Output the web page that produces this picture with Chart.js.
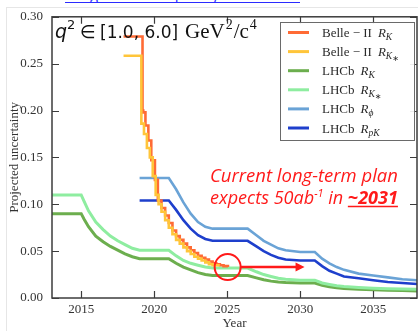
<!DOCTYPE html>
<html><head><meta charset="utf-8">
<script src="https://cdn.jsdelivr.net/npm/chart.js@4.4.0/dist/chart.umd.min.js"></script>
<style>
html,body{margin:0;padding:0;background:#fff;overflow:hidden}
#wrap{position:relative;width:418px;height:331px;overflow:hidden}
#frame{position:absolute;left:6px;top:7px;width:430px;height:340px;border-left:1px solid #e6e6e6;border-top:1px solid #e6e6e6}
#link{position:absolute;left:65px;top:-16px;width:235px;height:18px;line-height:17px;font:15px "Open Sans",sans-serif;color:#2b2bff;border-bottom:1.5px solid #2b2bff;white-space:nowrap;overflow:hidden;letter-spacing:0.3px}
canvas{position:absolute;left:0;top:0}
</style></head>
<body><div id="wrap"><div id="frame"></div><div id="link">Prog. Theor. Exp. Phys. 2019 123C01</div><canvas id="c" width="418" height="331"></canvas></div>
<script>
// ---- data ----
const belleRK_years = [2017.9, 2019.2, 2019.25, 2019.4, 2019.6, 2019.8, 2020.05, 2020.25, 2020.5, 2020.75, 2021.0, 2021.25, 2021.5, 2021.75, 2022.0, 2022.25, 2022.5, 2022.75, 2023.0, 2023.25, 2023.5, 2023.75, 2024.0, 2024.25, 2024.5, 2024.75, 2025.05];
const belleRK_values = [0.279, 0.200, 0.198, 0.184, 0.168, 0.147, 0.126, 0.104, 0.096, 0.088, 0.080, 0.072, 0.066, 0.062, 0.058, 0.054, 0.051, 0.048, 0.045, 0.043, 0.041, 0.039, 0.037, 0.036, 0.035, 0.034, 0.033];

const belleRKs_years = [2017.9, 2019.12, 2019.3, 2019.5, 2019.7, 2019.9, 2020.1, 2020.3, 2020.5, 2020.75, 2021.0, 2021.25, 2021.5, 2021.75, 2022.0, 2022.25, 2022.5, 2022.75, 2023.0, 2023.25, 2023.5, 2023.75, 2024.0, 2024.4];
const belleRKs_values = [0.2585, 0.186, 0.175, 0.160, 0.150, 0.130, 0.110, 0.100, 0.092, 0.083, 0.075, 0.068, 0.062, 0.058, 0.054, 0.050, 0.047, 0.044, 0.042, 0.040, 0.038, 0.036, 0.035, 0.034];

const lhcbGreen_years = [2013, 2015, 2015.2, 2015.5, 2016, 2016.5, 2017, 2017.5, 2018, 2018.5, 2019, 2021, 2021.5, 2022, 2022.5, 2023, 2023.5, 2024, 2026.4, 2027, 2027.5, 2028, 2028.5, 2029, 2030, 2031, 2031.5, 2032, 2032.5, 2033, 2034, 2035, 2036, 2037, 2038];
const lhcbRK_values  = [0.090, 0.090, 0.084, 0.076, 0.066, 0.060, 0.055, 0.051, 0.047, 0.044, 0.042, 0.042, 0.037, 0.033, 0.030, 0.027, 0.025, 0.024, 0.024, 0.0215, 0.0195, 0.018, 0.017, 0.0165, 0.016, 0.016, 0.0135, 0.012, 0.011, 0.0102, 0.0094, 0.0088, 0.0083, 0.0079, 0.0076];
const lhcbRKs_values = [0.110, 0.110, 0.103, 0.093, 0.081, 0.073, 0.066, 0.061, 0.057, 0.053, 0.051, 0.051, 0.045, 0.040, 0.037, 0.035, 0.033, 0.032, 0.032, 0.028, 0.025, 0.023, 0.021, 0.020, 0.019, 0.019, 0.016, 0.0145, 0.013, 0.0122, 0.0112, 0.0105, 0.0100, 0.0096, 0.0093];

const lhcbBlue_years = [2019, 2021, 2021.5, 2022, 2022.5, 2023, 2023.5, 2024, 2026.4, 2027, 2027.5, 2028, 2028.5, 2029, 2030, 2031, 2031.5, 2032, 2032.5, 2033, 2034, 2035, 2036, 2037, 2038];
const lhcbRphi_values = [0.128, 0.128, 0.116, 0.102, 0.090, 0.081, 0.076, 0.074, 0.074, 0.067, 0.061, 0.057, 0.053, 0.051, 0.049, 0.049, 0.042, 0.037, 0.033, 0.030, 0.026, 0.024, 0.022, 0.020, 0.019];
const lhcbRpK_values  = [0.104, 0.104, 0.094, 0.083, 0.074, 0.067, 0.063, 0.061, 0.061, 0.055, 0.050, 0.046, 0.043, 0.041, 0.040, 0.040, 0.034, 0.029, 0.026, 0.023, 0.021, 0.019, 0.017, 0.016, 0.015];

const legendPrefix = ['Belle \u2212 II', 'Belle \u2212 II', 'LHCb', 'LHCb', 'LHCb', 'LHCb'];
const legendSub = ['K', 'K*', 'K', 'K*', '\u03D5', 'pK'];
const xTickValues = [2015, 2020, 2025, 2030, 2035];
const yTickStep = 0.05;
const xRange = [2013, 2038], yRange = [0, 0.30];
const markYear = 2025.03, markValue = 0.033, arrowEndYear = 2030.3;

function pts(xs, ys){ return xs.map((x,i)=>({x:x, y:ys[i]})); }

function fitFont(ctx, style, family, text, width){
  ctx.font = style + ' 20px ' + family;
  return 20 * width / ctx.measureText(text).width;
}

const frameTicks = {
  id:'frameTicks',
  afterDatasetsDraw(chart){
    const {ctx, chartArea:a, scales:{x, y}} = chart;
    ctx.save();
    ctx.strokeStyle = '#3c3c3c'; ctx.lineWidth = 1.5;
    ctx.strokeRect(a.left, a.top, a.right - a.left, a.bottom - a.top);
    ctx.lineWidth = 1.2;
    ctx.beginPath();
    x.ticks.forEach(t=>{ const px = Math.round(x.getPixelForValue(t.value))+0.5;
      ctx.moveTo(px, a.bottom); ctx.lineTo(px, a.bottom-7);
      ctx.moveTo(px, a.top); ctx.lineTo(px, a.top+7); });
    y.ticks.forEach(t=>{ const py = Math.round(y.getPixelForValue(t.value))+0.5;
      ctx.moveTo(a.left, py); ctx.lineTo(a.left+7, py);
      ctx.moveTo(a.right, py); ctx.lineTo(a.right-7, py); });
    ctx.stroke();
    // legend
    const x0 = 280.5, y0 = 22.5, w = 134, h = 118;
    ctx.fillStyle = 'rgba(255,255,255,0.9)'; ctx.fillRect(x0, y0, w, h);
    ctx.strokeStyle = '#6a6a6a'; ctx.lineWidth = 1; ctx.strokeRect(x0, y0, w, h);
    chart.data.datasets.forEach((ds, i)=>{
      const ly = 32.5 + i*19.1;
      ctx.strokeStyle = ds.borderColor; ctx.lineWidth = 3;
      ctx.beginPath(); ctx.moveTo(288, ly); ctx.lineTo(309, ly); ctx.stroke();
      ctx.fillStyle = '#2a2a2a'; ctx.textBaseline = 'alphabetic'; ctx.textAlign = 'left';
      let tx = 322; const by = ly + 4.5;
      ctx.font = '13px "Liberation Serif"';
      ctx.fillText(legendPrefix[i], tx, by); tx += ctx.measureText(legendPrefix[i]).width + 6;
      ctx.font = 'italic 13px "Liberation Serif"';
      ctx.fillText('R', tx, by); tx += ctx.measureText('R').width;
      const sub = legendSub[i];
      if (sub.endsWith('*')) {
        ctx.font = 'italic 9.5px "Liberation Serif"';
        const s = sub.slice(0,-1); ctx.fillText(s, tx, by+3); tx += ctx.measureText(s).width;
        ctx.font = '8px "DejaVu Sans"'; ctx.fillText('\u2217', tx, by+5);
      } else {
        ctx.font = 'italic 9.5px "Liberation Serif"'; ctx.fillText(sub, tx, by+3);
      }
    });
    ctx.restore();
  },
  afterDraw(chart){
    const {ctx, scales:{x, y}} = chart;
    ctx.save();
    // title q^2
    ctx.fillStyle = '#111'; ctx.textBaseline = 'alphabetic'; ctx.textAlign = 'left';
    const bl = 38;
    ctx.font = 'italic 19px "DejaVu Sans"'; ctx.fillText('q', 55, bl);
    ctx.font = '13px "DejaVu Sans"'; ctx.fillText('2', 67, bl-9);
    ctx.font = '18px "DejaVu Sans"'; ctx.fillText('\u2208', 80, bl);
    ctx.font = '17px "DejaVu Sans"'; ctx.fillText('[1.0, 6.0]', 100, bl);
    let gx = 185;
    ctx.font = '21px "Liberation Serif"'; ctx.fillText('GeV', gx, bl); gx += ctx.measureText('GeV').width + 1;
    ctx.font = '14px "Liberation Serif"'; ctx.fillText('2', gx, bl-9); gx += ctx.measureText('2').width + 1;
    ctx.font = '21px "Liberation Serif"'; ctx.fillText('/c', gx, bl); gx += ctx.measureText('/c').width + 1;
    ctx.font = '14px "Liberation Serif"'; ctx.fillText('4', gx, bl-9);

    // annotation
    const red = '#ff1a1a';
    const cx = x.getPixelForValue(markYear), cy = y.getPixelForValue(markValue);
    ctx.strokeStyle = red; ctx.lineWidth = 2;
    ctx.beginPath(); ctx.arc(cx, cy, 13, 0, Math.PI*2); ctx.stroke();
    const ax2 = x.getPixelForValue(arrowEndYear);
    ctx.lineWidth = 2.5;
    ctx.beginPath(); ctx.moveTo(cx+13, cy); ctx.lineTo(ax2-7, cy); ctx.stroke();
    ctx.fillStyle = red;
    ctx.beginPath(); ctx.moveTo(ax2, cy); ctx.lineTo(ax2-9, cy-4.5); ctx.lineTo(ax2-9, cy+4.5); ctx.closePath(); ctx.fill();

    const tx0 = 210, tw = 188;
    const l1 = 'Current long-term plan';
    const s1 = fitFont(ctx, 'italic', '"Open Sans"', l1, tw);
    ctx.font = 'italic ' + s1.toFixed(2) + 'px "Open Sans"';
    ctx.fillText(l1, tx0, 182);
    const fs = s1;
    const partA = 'expects 50ab', partSup = '-1', partB = ' in ', partC = '~2031';
    ctx.font = 'italic ' + fs + 'px "Open Sans"';
    let wA = ctx.measureText(partA).width, wB = ctx.measureText(partB).width;
    ctx.font = 'italic ' + (fs*0.6) + 'px "Open Sans"';
    let wS = ctx.measureText(partSup).width;
    ctx.font = 'italic bold ' + fs + 'px "Open Sans"';
    let wC = ctx.measureText(partC).width;
    const sc = tw / (wA + wS + wB + wC);
    const f2 = fs * sc;
    let px = tx0; const b2 = 203.5;
    ctx.font = 'italic ' + f2 + 'px "Open Sans"'; ctx.fillText(partA, px, b2); px += ctx.measureText(partA).width;
    ctx.font = 'italic ' + (f2*0.6) + 'px "Open Sans"'; ctx.fillText(partSup, px, b2-7); px += ctx.measureText(partSup).width;
    ctx.font = 'italic ' + f2 + 'px "Open Sans"'; ctx.fillText(partB, px, b2); px += ctx.measureText(partB).width;
    ctx.font = 'italic bold ' + f2 + 'px "Open Sans"'; ctx.fillText(partC, px, b2);
    const wc = ctx.measureText(partC).width;
    ctx.lineWidth = 1.6; ctx.strokeStyle = red;
    ctx.beginPath(); ctx.moveTo(px, b2+3); ctx.lineTo(px+wc, b2+3); ctx.stroke();
    ctx.restore();
  }
};

const common = {fill:false, pointRadius:0, borderWidth:2.6, tension:0};
new Chart(document.getElementById('c'), {
  type:'line',
  data:{datasets:[
    Object.assign({label:'Belle − II R_K', data:pts(belleRK_years, belleRK_values), borderColor:'#ff6b35', stepped:'before'}, common, {order:2}),
    Object.assign({label:'Belle − II R_K*', data:pts(belleRKs_years, belleRKs_values), borderColor:'#ffc53a', stepped:'before'}, common, {order:1}),
    Object.assign({label:'LHCb R_K', data:pts(lhcbGreen_years, lhcbRK_values), borderColor:'#6cae4e'}, common, {borderWidth:3, order:4}),
    Object.assign({label:'LHCb R_K*', data:pts(lhcbGreen_years, lhcbRKs_values), borderColor:'#8eeda0'}, common, {borderWidth:3, order:3}),
    Object.assign({label:'LHCb R_phi', data:pts(lhcbBlue_years, lhcbRphi_values), borderColor:'#6aa3d6'}, common, {order:5}),
    Object.assign({label:'LHCb R_pK', data:pts(lhcbBlue_years, lhcbRpK_values), borderColor:'#1e3fcc'}, common, {order:6})
  ]},
  options:{
    responsive:false, animation:false, devicePixelRatio:1,
    layout:{padding:{top:16, right:1, left:0, bottom:0}},
    plugins:{legend:{display:false}, tooltip:{enabled:false}},
    scales:{
      x:{type:'linear', min:xRange[0], max:xRange[1],
        afterFit:s=>{s.height=33;},
        afterBuildTicks:s=>{ s.ticks = xTickValues.map(v=>({value:v})); },
        grid:{display:false, drawTicks:false}, border:{display:false},
        ticks:{padding:4, color:'#333', font:{family:'"Liberation Serif"', size:13}, maxRotation:0, callback:v=>String(v)},
        title:{display:true, text:'Year', color:'#333', font:{family:'"Liberation Serif"', size:13}, padding:{top:0,bottom:0}}},
      y:{min:yRange[0], max:yRange[1],
        afterFit:s=>{s.width=52;},
        grid:{display:false, drawTicks:false}, border:{display:false},
        ticks:{stepSize:yTickStep, padding:9, color:'#333', font:{family:'"Liberation Serif"', size:13}, callback:v=>v.toFixed(2)},
        title:{display:true, text:'Projected uncertainty', color:'#333', font:{family:'"Liberation Serif"', size:13}, padding:{top:7,bottom:0}}}
    }
  },
  plugins:[frameTicks]
});
</script></body></html>
